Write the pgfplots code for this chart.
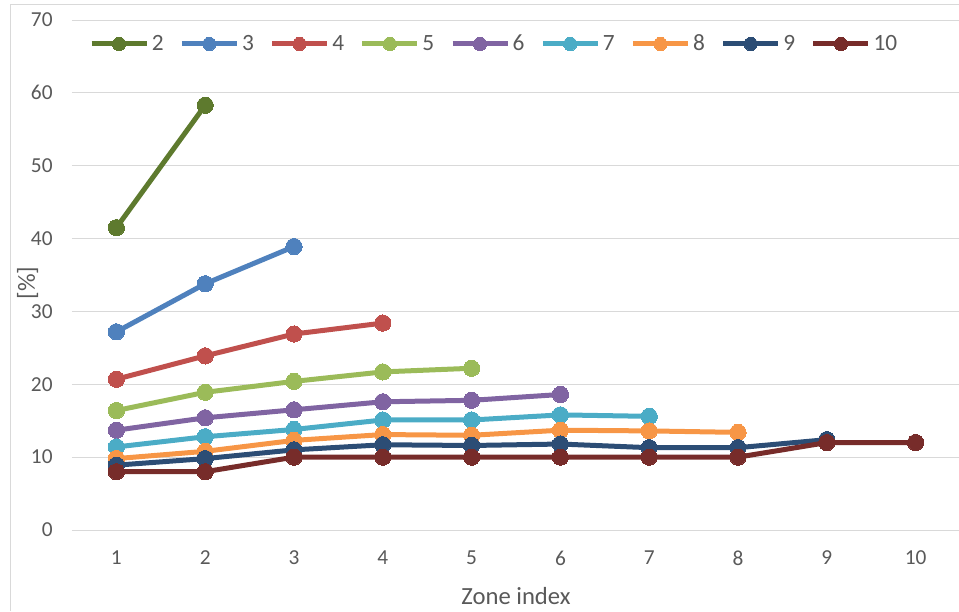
\documentclass[border=0pt]{standalone}
\usepackage{pgfplots}
\pgfplotsset{compat=1.18}
\usepackage{fontspec}
\setmainfont{Carlito}

\definecolor{txtgray}{HTML}{595959}
\definecolor{gridgray}{HTML}{D9D9D9}
\definecolor{cA}{HTML}{5E7A2E}
\definecolor{cB}{HTML}{4F81BD}
\definecolor{cC}{HTML}{C0504D}
\definecolor{cD}{HTML}{9BBB59}
\definecolor{cE}{HTML}{8064A2}
\definecolor{cF}{HTML}{4BACC6}
\definecolor{cG}{HTML}{F79646}
\definecolor{cH}{HTML}{2C4D75}
\definecolor{cI}{HTML}{772C2A}

\pgfplotsset{
  zone/.style={line width=3.75pt, mark=*, mark size=6.1pt,
    color=#1, mark options={solid, fill=#1, draw=#1, line width=0pt}},
}

\begin{document}
\begin{tikzpicture}
  \useasboundingbox (0pt,0pt) rectangle (719.25pt,458.25pt);
  % chart frame
  \draw[gridgray, line width=0.75pt] (7.5pt,0pt) -- (7.5pt,454.5pt) -- (719.25pt,454.5pt);
  \begin{axis}[
    at={(54pt,60.75pt)}, anchor=south west,
    scale only axis,
    width=666pt, height=382.5pt,
    xmin=0.5, xmax=10.5, ymin=0, ymax=70,
    xtick={1,...,10}, ytick={0,10,...,70},
    axis line style={draw=none},
    tick style={draw=none},
    ymajorgrids, grid style={gridgray, line width=0.75pt},
    /pgf/number format/assume math mode=true,
    ticklabel style={font=\fontsize{16}{19}\selectfont, text=txtgray},
    xticklabel style={yshift=-12pt},
    yticklabel style={xshift=-11pt},
    xlabel={Zone index},
    ylabel={[\%]},
    label style={font=\fontsize{18.5}{22}\selectfont, text=txtgray},
    xlabel style={at={(axis description cs:0.5,-0.147)}, anchor=base},
    ylabel style={at={(axis description cs:-0.05,0.484)}, anchor=center},
    legend columns=9,
    legend style={draw=none, fill=none, inner sep=0pt,
      at={(axis description cs:0.019,0.953)}, anchor=west,
      font=\fontsize{17.5}{20}\selectfont, text=txtgray,
      nodes={inner xsep=2pt, inner ysep=1pt},
      /tikz/every even column/.append style={column sep=9.8pt}},
    legend image code/.code={%
      \draw[mark repeat=2, mark phase=2, #1, mark size=5pt]
        plot coordinates {(0pt,0pt) (20.6pt,0pt) (41.25pt,0pt)};},
  ]
    \addplot[zone=cA] coordinates {(1,41.5) (2,58.3)};
    \addlegendentry{2}
    \addplot[zone=cB] coordinates {(1,27.2) (2,33.8) (3,38.9)};
    \addlegendentry{3}
    \addplot[zone=cC] coordinates {(1,20.7) (2,23.9) (3,26.9) (4,28.4)};
    \addlegendentry{4}
    \addplot[zone=cD] coordinates {(1,16.4) (2,18.9) (3,20.4) (4,21.7) (5,22.2)};
    \addlegendentry{5}
    \addplot[zone=cE] coordinates {(1,13.7) (2,15.4) (3,16.5) (4,17.6) (5,17.8) (6,18.6)};
    \addlegendentry{6}
    \addplot[zone=cF] coordinates {(1,11.4) (2,12.8) (3,13.8) (4,15.1) (5,15.1) (6,15.8) (7,15.6)};
    \addlegendentry{7}
    \addplot[zone=cG] coordinates {(1,9.8) (2,10.8) (3,12.3) (4,13.1) (5,13.0) (6,13.7) (7,13.6) (8,13.4)};
    \addlegendentry{8}
    \addplot[zone=cH] coordinates {(1,8.9) (2,9.8) (3,11.0) (4,11.7) (5,11.6) (6,11.8) (7,11.3) (8,11.3) (9,12.4)};
    \addlegendentry{9}
    \addplot[zone=cI] coordinates {(1,8.0) (2,8.0) (3,10.0) (4,10.0) (5,10.0) (6,10.0) (7,10.0) (8,10.0) (9,12.0) (10,12.0)};
    \addlegendentry{10}
  \end{axis}
\end{tikzpicture}
\end{document}
